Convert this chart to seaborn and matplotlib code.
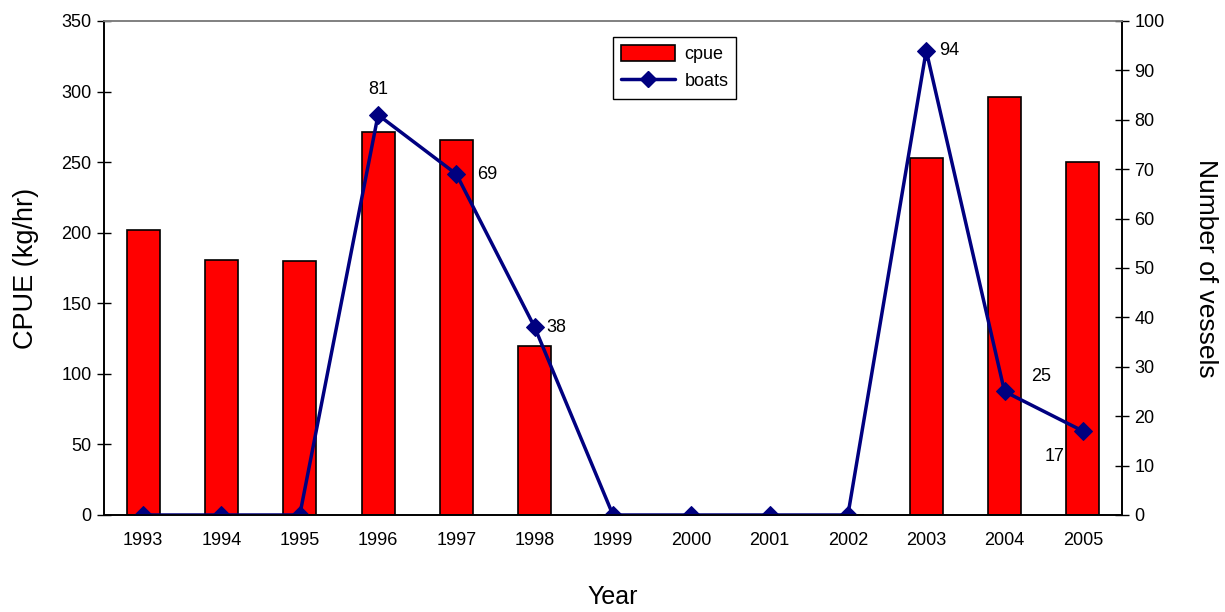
import numpy as np
import pandas as pd
import matplotlib
matplotlib.use("Agg")
import matplotlib.pyplot as plt
import seaborn as sns
from matplotlib.lines import Line2D
from matplotlib.patches import Patch

years = ["1993", "1994", "1995", "1996", "1997", "1998", "1999",
         "2000", "2001", "2002", "2003", "2004", "2005"]
cpue = [202, 181, 180, 271, 266, 120, 0, 0, 0, 0, 253, 296, 250]
boats = [0, 0, 0, 81, 69, 38, 0, 0, 0, 0, 94, 25, 17]
boat_labels = {3: (0, 25, "center", "center"),
               4: (21, 0, "left", "center"),
               5: (12, 0, "left", "center"),
               10: (13, 0, "left", "center"),
               11: (27, 15, "left", "center"),
               12: (-28, -25, "center", "center")}

sns.set_theme(style="white")
plt.rcParams["font.family"] = ["Liberation Sans", "DejaVu Sans"]
plt.rcParams["text.color"] = "black"
plt.rcParams["axes.labelcolor"] = "black"
plt.rcParams["xtick.color"] = "black"
plt.rcParams["ytick.color"] = "black"

df = pd.DataFrame({"year": years, "cpue": cpue, "boats": boats})

fig = plt.figure(figsize=(12.25, 6.12), dpi=100)
ax = fig.add_axes([0.0849, 0.1585, 0.8310, 0.8072])

sns.barplot(data=df, x="year", y="cpue", ax=ax, color="#ff0000",
            saturation=1, width=0.42, edgecolor="black", linewidth=1.2)
ax.set_ylim(0, 350)
ax.set_xlim(-0.5, len(years) - 0.5)
ax.set_yticks(np.arange(0, 351, 50))
ax.set_ylabel("CPUE (kg/hr)", fontsize=19.5, labelpad=16)
ax.set_xlabel("Year", fontsize=18, labelpad=26)
ax.tick_params(axis="y", labelsize=13, direction="inout", length=10, width=1, color="black", pad=4)
ax.tick_params(axis="x", which="major", length=0, labelsize=13, pad=12)
ax.set_xticks(np.arange(-0.5, len(years), 1), minor=True)
ax.tick_params(axis="x", which="minor", direction="inout", length=10, width=1, color="black")

ax2 = ax.twinx()
pos = np.arange(len(years))
sns.lineplot(x=pos, y=boats, ax=ax2, color="#000080", linewidth=2.5,
             marker="D", markersize=9, markeredgecolor="#000080")
ax2.set_ylim(0, 100)
ax2.set_yticks(np.arange(0, 101, 10))
ax2.set_ylabel("Number of vessels", fontsize=19, rotation=270, labelpad=38)
ax2.tick_params(axis="y", labelsize=13, direction="inout", length=10, width=1, color="black", pad=4)
ax.set_xlim(-0.5, len(years) - 0.5)

for i, (dx, dy, ha, va) in boat_labels.items():
    ax2.annotate(str(boats[i]), (pos[i], boats[i]), xytext=(dx, dy),
                 textcoords="offset pixels", ha=ha, va=va, fontsize=13, color="black")

for a in (ax, ax2):
    for s in ("left", "right", "bottom"):
        a.spines[s].set_color("black")
        a.spines[s].set_linewidth(1.2)
    a.spines["top"].set_color("#808080")
    a.spines["top"].set_linewidth(1.2)

handles = [Patch(facecolor="#ff0000", edgecolor="black", linewidth=1.2),
           Line2D([], [], color="#000080", linewidth=2.5, marker="D", markersize=8)]
leg = ax2.legend(handles, ["cpue", "boats"], loc="upper left",
                 bbox_to_anchor=(0.5, 0.968), fontsize=13, frameon=True,
                 fancybox=False, edgecolor="black", framealpha=1,
                 handlelength=3.0, handleheight=1.0, borderpad=0.45,
                 labelspacing=0.5, handletextpad=0.5, borderaxespad=0)
leg.get_frame().set_linewidth(1.0)

fig.savefig("out.png", dpi=100)
